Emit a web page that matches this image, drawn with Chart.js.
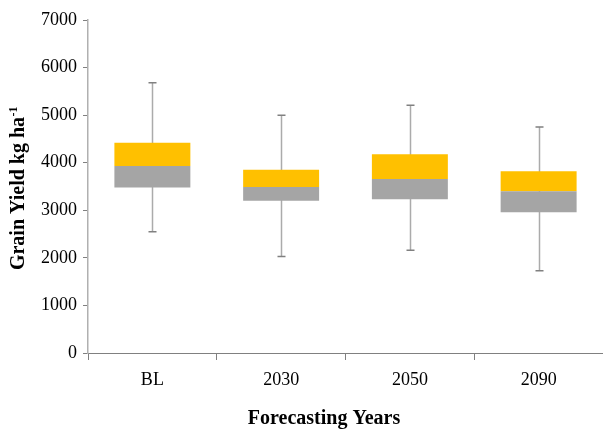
<!DOCTYPE html>
<html>
<head>
<meta charset="utf-8">
<script src="https://cdn.jsdelivr.net/npm/chart.js@4/dist/chart.umd.min.js"></script>
<style>
html,body{margin:0;padding:0;background:#fff;overflow:hidden;}
#wrap{position:relative;width:603px;height:432px;}
</style>
</head>
<body>
<div id="wrap"><canvas id="c" width="603" height="432"></canvas></div>
<script>
const categories = ['BL', '2030', '2050', '2090'];
const whiskerMin = [2550, 2030, 2160, 1730];
const q1 = [3480, 3200, 3230, 2960];
const median = [3930, 3490, 3660, 3400];
const q3 = [4420, 3850, 4180, 3820];
const whiskerMax = [5680, 5000, 5210, 4750];
const yTicks = [0, 1000, 2000, 3000, 4000, 5000, 6000, 7000];
const xTitle = 'Forecasting Years';
const yTitleMain = 'Grain Yield kg ha';
const yTitleSup = '-1';

const lowerBox = q1.map((v, i) => [v, median[i]]);
const upperBox = median.map((v, i) => [v, q3[i]]);

const serif = "'Liberation Serif', 'Times New Roman', serif";

const whiskerPlugin = {
  id: 'whiskers',
  beforeDatasetsDraw(chart) {
    const ctx = chart.ctx;
    const xs = chart.scales.x, ys = chart.scales.y;
    ctx.save();
    categories.forEach((c, i) => {
      const x = Math.round(xs.getPixelForValue(i)) + 0.5;
      const yTop = ys.getPixelForValue(whiskerMax[i]);
      const yBot = ys.getPixelForValue(whiskerMin[i]);
      ctx.strokeStyle = '#ababab';
      ctx.lineWidth = 1.5;
      ctx.beginPath();
      ctx.moveTo(x, yTop); ctx.lineTo(x, yBot);
      ctx.stroke();
      ctx.strokeStyle = '#808080';
      ctx.lineWidth = 1.5;
      ctx.beginPath();
      ctx.moveTo(x - 4, yTop); ctx.lineTo(x + 4, yTop);
      ctx.moveTo(x - 4, yBot); ctx.lineTo(x + 4, yBot);
      ctx.stroke();
    });
    ctx.restore();
  },
  afterDraw(chart) {
    const ctx = chart.ctx;
    ctx.save();
    ctx.fillStyle = '#000';
    // x-axis title
    ctx.font = 'bold 20px ' + serif;
    ctx.textAlign = 'center';
    ctx.textBaseline = 'middle';
    ctx.fillText(xTitle, 324, 418.5);
    // y-axis title with superscript
    ctx.translate(17.5, 188.5);
    ctx.rotate(-Math.PI / 2);
    ctx.font = 'bold 20px ' + serif;
    const w1 = ctx.measureText(yTitleMain).width;
    ctx.font = 'bold 12px ' + serif;
    const w2 = ctx.measureText(yTitleSup).width;
    const start = -(w1 + w2) / 2;
    ctx.textBaseline = 'alphabetic';
    ctx.textAlign = 'left';
    ctx.font = 'bold 20px ' + serif;
    ctx.fillText(yTitleMain, start, 6.8);
    ctx.font = 'bold 12px ' + serif;
    ctx.fillText(yTitleSup, start + w1 + 0.5, -0.5);
    ctx.restore();
  }
};

new Chart(document.getElementById('c'), {
  type: 'bar',
  data: {
    labels: categories,
    datasets: [
      { label: 'Q1-Median', data: lowerBox, backgroundColor: '#A5A5A5', grouped: false,
        categoryPercentage: 1, barPercentage: 0.59, borderWidth: 0 },
      { label: 'Median-Q3', data: upperBox, backgroundColor: '#FFC000', grouped: false,
        categoryPercentage: 1, barPercentage: 0.59, borderWidth: 0 }
    ]
  },
  options: {
    responsive: false,
    animation: false,
    layout: { padding: { top: 20, right: 0, left: 0, bottom: 0 } },
    plugins: { legend: { display: false }, tooltip: { enabled: false } },
    scales: {
      x: {
        offset: true,
        grid: { display: true, drawOnChartArea: false, offset: true, tickLength: 7, color: '#808080', lineWidth: 1 },
        border: { display: true, color: '#808080', width: 1 },
        ticks: { color: '#000', font: { family: serif, size: 18 }, padding: 9 },
        title: { display: false },
        afterFit(scale) { scale.height = 79; }
      },
      y: {
        min: 0, max: 7000,
        afterBuildTicks(scale) { scale.ticks = yTicks.map(v => ({ value: v })); },
        grid: { display: true, drawOnChartArea: false, tickLength: 5, color: '#808080', lineWidth: 1 },
        border: { display: true, color: '#b0b0b0', width: 1.5 },
        ticks: { color: '#000', font: { family: serif, size: 18 }, padding: 6,
                 callback: (v) => String(v) },
        title: { display: false },
        afterFit(scale) { scale.width = 88; }
      }
    }
  },
  plugins: [whiskerPlugin]
});
</script>
</body>
</html>
